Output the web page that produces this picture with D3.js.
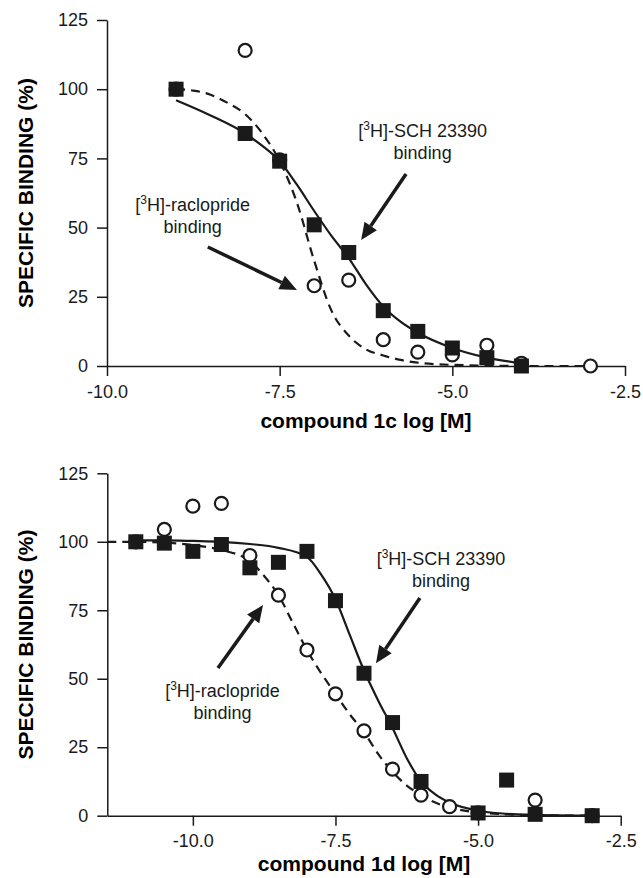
<!DOCTYPE html>
<html>
<head>
<meta charset="utf-8">
<script src="https://cdn.jsdelivr.net/npm/d3@7"></script>
<style>
  body { margin: 0; background: #fff; }
  svg { display: block; font-family: "Liberation Sans", Arial, sans-serif; }
</style>
</head>
<body>
<svg width="643" height="878"></svg>
<script>
// ---- data ----
var yTicks = [0, 25, 50, 75, 100, 125];
var xTicks = [-10, -7.5, -5, -2.5];

// compound 1c
var c1SchX = [-9, -8, -7.5, -7, -6.5, -6, -5.5, -5, -4.5, -4];
var c1SchY = [100, 84, 74, 51, 41, 20, 12.5, 6.5, 3, 0];
var c1RacX = [-9, -8, -7.5, -7, -6.5, -6, -5.5, -5, -4.5, -4, -3];
var c1RacY = [100, 114, 74.5, 29, 31, 9.5, 5, 4, 7.5, 1, 0];
var c1SchFitX = [-9, -8.5, -8, -7.75, -7.5, -7.25, -7, -6.75, -6.5, -6.25, -6, -5.75, -5.5, -5, -4.5, -4];
var c1SchFitY = [96, 90.5, 84, 79.5, 74, 65.5, 56, 47, 39, 29.5, 21.5, 16, 12, 6.5, 3, 1];
var c1RacFitX = [-9, -8.75, -8.5, -8.25, -8, -7.75, -7.5, -7.25, -7, -6.75, -6.5, -6.25, -6, -5.75, -5.5, -5, -4, -3];
var c1RacFitY = [100, 99.5, 98, 95, 91, 84, 74, 59, 38, 20, 11, 6, 3.8, 2.2, 1.2, 0.4, 0, 0];

// compound 1d
var d1SchX = [-11, -10.5, -10, -9.5, -9, -8.5, -8, -7.5, -7, -6.5, -6, -5, -4.5, -4, -3];
var d1SchY = [100, 99.5, 96.5, 99, 90.5, 92.5, 96.5, 78.5, 52, 34, 12.5, 1, 13, 0.5, 0];
var d1RacX = [-11, -10.5, -10, -9.5, -9, -8.5, -8, -7.5, -7, -6.5, -6, -5.5, -5, -4, -3];
var d1RacY = [100, 104.5, 113, 114, 95, 80.5, 60.5, 44.5, 31, 17, 7.5, 3.3, 1, 5.7, 0];
var d1SchFitX = [-11, -10.5, -10, -9.5, -9, -8.5, -8, -7.75, -7.5, -7.25, -7, -6.75, -6.5, -6.25, -6, -5.75, -5.5, -5, -4.5, -4, -3];
var d1SchFitY = [100.5, 100.5, 100.3, 100, 99.2, 97.8, 94.5, 88, 79, 66, 53, 42, 32, 21, 12.5, 7.8, 4.8, 1.8, 0.7, 0.3, 0];
var d1RacFitX = [-11.5, -11, -10.5, -10, -9.5, -9, -8.75, -8.5, -8.25, -8, -7.75, -7.5, -7.25, -7, -6.75, -6.5, -6.25, -6, -5.75, -5.5, -5, -4.5, -4, -3];
var d1RacFitY = [100, 100, 99.7, 98.8, 97, 93, 87.5, 80.5, 70.5, 60.5, 52, 44.5, 37, 30.5, 22.5, 16, 11, 7.5, 4.8, 3, 1.2, 0.5, 0.2, 0];

// annotation anchors in data units: [labelX, labelY, arrowFromX, arrowFromY, arrowToX, arrowToY]
var c1SchNote = [-5.43, 82.7, -5.67, 69.4, -6.32, 45.5];
var c1RacNote = [-8.76, 56, -8.54, 43, -7.25, 27.5];
var d1SchNote = [-5.65, 91.5, -6.02, 79.5, -6.79, 55.7];
var d1RacNote = [-9.48, 43.3, -9.56, 53.9, -8.77, 76.9];

var svg = d3.select("svg");
var ink = "#1a1a1a";

function zip(xs, ys) { return xs.map(function(x, i) { return [x, ys[i]]; }); }

function panel(p) {
  var x = d3.scaleLinear().domain(p.xDomain).range([p.left, p.right]);
  var y = d3.scaleLinear().domain([0, 125]).range([p.bottom, p.top]);
  var g = svg.append("g");

  var xAxis = g.append("g")
      .attr("transform", "translate(0," + p.bottom + ")")
      .call(d3.axisBottom(x).tickValues(xTicks).tickFormat(function(d) { return d.toFixed(1); })
        .tickSize(10).tickSizeOuter(0).tickPadding(9));
  var yAxis = g.append("g")
      .attr("transform", "translate(" + p.left + ",0)")
      .call(d3.axisLeft(y).tickValues(yTicks).tickSize(10).tickSizeOuter(0).tickPadding(9));
  [xAxis, yAxis].forEach(function(a) {
    a.selectAll("path, line").attr("stroke", ink).attr("stroke-width", 1.5);
    a.selectAll("text").attr("fill", ink).style("font-size", "18px");
  });

  g.append("text")
      .attr("x", (p.left + p.right) / 2).attr("y", p.titleY)
      .attr("text-anchor", "middle").attr("font-weight", "bold")
      .style("font-size", "21px").attr("fill", "#000")
      .text(p.xTitle);
  g.append("text")
      .attr("transform", "translate(33," + (p.top + p.bottom) / 2 + ") rotate(-90)")
      .attr("text-anchor", "middle").attr("font-weight", "bold")
      .style("font-size", "21px").attr("fill", "#000")
      .text("SPECIFIC BINDING (%)");

  var line = d3.line()
      .x(function(d) { return x(d[0]); })
      .y(function(d) { return y(d[1]); })
      .curve(d3.curveMonotoneX);

  g.append("path").datum(zip(p.racFitX, p.racFitY))
      .attr("d", line).attr("fill", "none").attr("stroke", ink)
      .attr("stroke-width", 2.2).attr("stroke-dasharray", "9,6");
  g.append("path").datum(zip(p.schFitX, p.schFitY))
      .attr("d", line).attr("fill", "none").attr("stroke", ink)
      .attr("stroke-width", 2.2);

  g.selectAll(".rac").data(zip(p.racX, p.racY)).enter().append("circle")
      .attr("cx", function(d) { return x(d[0]); })
      .attr("cy", function(d) { return y(d[1]); })
      .attr("r", 6.5).attr("fill", "#fff").attr("stroke", ink).attr("stroke-width", 2.2);
  g.selectAll(".sch").data(zip(p.schX, p.schY)).enter().append("rect")
      .attr("x", function(d) { return x(d[0]) - 7.5; })
      .attr("y", function(d) { return y(d[1]) - 7.5; })
      .attr("width", 15).attr("height", 15).attr("fill", ink);

  [[p.schNote, "-SCH 23390"], [p.racNote, "-raclopride"]].forEach(function(n) {
    var a = n[0];
    var t = g.append("text")
        .attr("x", x(a[0])).attr("y", y(a[1]))
        .attr("text-anchor", "middle").style("font-size", "18px").attr("fill", ink);
    t.append("tspan").text("[");
    t.append("tspan").attr("dy", -7).style("font-size", "12px").text("3");
    t.append("tspan").attr("dy", 7).text("H]" + n[1]);
    g.append("text")
        .attr("x", x(a[0])).attr("y", y(a[1]) + 22)
        .attr("text-anchor", "middle").style("font-size", "18px").attr("fill", ink)
        .text("binding");

    // arrow
    var x0 = x(a[2]), y0 = y(a[3]), x1 = x(a[4]), y1 = y(a[5]);
    var ang = Math.atan2(y1 - y0, x1 - x0), len = 17, hw = 7.5;
    var bx = x1 - len * Math.cos(ang), by = y1 - len * Math.sin(ang);
    g.append("line")
        .attr("x1", x0).attr("y1", y0).attr("x2", bx).attr("y2", by)
        .attr("stroke", ink).attr("stroke-width", 3.5);
    g.append("path")
        .attr("d", "M" + x1 + "," + y1 +
          "L" + (bx + hw * Math.sin(ang)) + "," + (by - hw * Math.cos(ang)) +
          "L" + (bx - hw * Math.sin(ang)) + "," + (by + hw * Math.cos(ang)) + "Z")
        .attr("fill", ink);
  });
}

panel({
  xDomain: [-10, -2.5], left: 107, right: 625, top: 20, bottom: 366, titleY: 428,
  xTitle: "compound 1c log [M]",
  schX: c1SchX, schY: c1SchY, racX: c1RacX, racY: c1RacY,
  schFitX: c1SchFitX, schFitY: c1SchFitY, racFitX: c1RacFitX, racFitY: c1RacFitY,
  schNote: c1SchNote, racNote: c1RacNote
});

panel({
  xDomain: [-11.5, -2.5], left: 107.3, right: 620.7, top: 473.3, bottom: 815.7, titleY: 871,
  xTitle: "compound 1d log [M]",
  schX: d1SchX, schY: d1SchY, racX: d1RacX, racY: d1RacY,
  schFitX: d1SchFitX, schFitY: d1SchFitY, racFitX: d1RacFitX, racFitY: d1RacFitY,
  schNote: d1SchNote, racNote: d1RacNote
});
</script>
</body>
</html>
